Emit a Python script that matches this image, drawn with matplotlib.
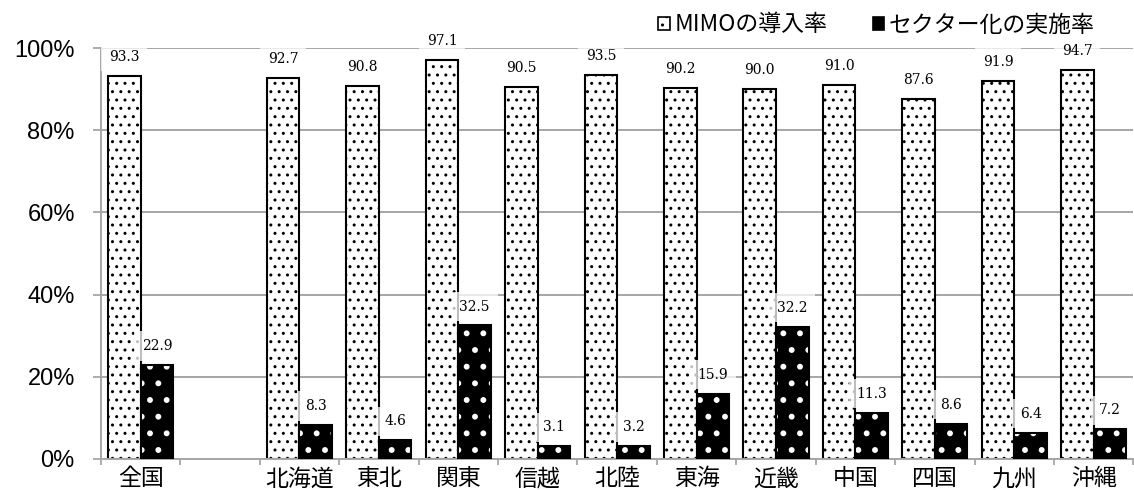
import numpy as np
import matplotlib
matplotlib.use('Agg')
import matplotlib.pyplot as plt
from matplotlib.patches import Patch

# data (percent), empty slot after 全国
categories = ['全国', '', '北海道', '東北', '関東', '信越', '北陸', '東海',
              '近畿', '中国', '四国', '九州', '沖縄']
mimo_rate = [93.3, np.nan, 92.7, 90.8, 97.1, 90.5, 93.5, 90.2, 90.0, 91.0,
             87.6, 91.9, 94.7]
sector_rate = [22.9, np.nan, 8.3, 4.6, 32.5, 3.1, 3.2, 15.9, 32.2, 11.3,
               8.6, 6.4, 7.2]
legend_labels = ['MIMOの導入率', 'セクター化の実施率']
y_ticks = [0, 20, 40, 60, 80, 100]

# design
JP_FONT = ['Noto Sans CJK JP', 'DejaVu Sans']
GRID_COLOR = '#a6a6a6'
BAR_WIDTH = 0.41
LABEL_OFFSET = 4.6  # in percent units

fig = plt.figure(figsize=(11.34, 4.9), dpi=100)
ax = fig.add_axes([0.089, 0.0633, 0.9105, 0.8387])

x = np.arange(len(categories))
mimo = np.array(mimo_rate)
sector = np.array(sector_rate)

# MIMO bars: white with small black dots
ax.bar(x - BAR_WIDTH / 2, mimo, BAR_WIDTH, facecolor='white',
       edgecolor='black', hatch='..', linewidth=1.5, zorder=2)
# sector bars: black with white dots (a bit bigger), then a black outline
with plt.rc_context({'hatch.linewidth': 1.8}):
    ax.bar(x + BAR_WIDTH / 2, sector, BAR_WIDTH, facecolor='black',
           edgecolor='white', hatch='.', linewidth=0, zorder=2)
ax.bar(x + BAR_WIDTH / 2, sector, BAR_WIDTH, fill=False,
       edgecolor='black', linewidth=1.5, zorder=3)

# value labels
box = dict(facecolor='white', edgecolor='none', alpha=0.75,
           boxstyle='square,pad=0.55')
for xi, v in zip(x, mimo):
    if not np.isnan(v):
        ax.text(xi - BAR_WIDTH / 2, v + LABEL_OFFSET, '%.1f' % v,
                ha='center', va='center', fontsize=10,
                family='DejaVu Serif', bbox=box, zorder=4)
for xi, v in zip(x, sector):
    if not np.isnan(v):
        ax.text(xi + BAR_WIDTH / 2, v + LABEL_OFFSET, '%.1f' % v,
                ha='center', va='center', fontsize=10,
                family='DejaVu Serif', bbox=box, zorder=4)

# axes
ax.set_xlim(-0.5, len(categories) - 0.5)
ax.set_ylim(0, 100)
ax.set_yticks(y_ticks)
ax.set_yticklabels(['%d%%' % t for t in y_ticks], family='Liberation Sans',
                   fontsize=17)
ax.yaxis.grid(True, color=GRID_COLOR, linewidth=1.4)
ax.set_axisbelow(True)
ax.tick_params(axis='y', length=5.8, color=GRID_COLOR, width=1.3, pad=13)

ax.set_xticks(x)
ax.set_xticklabels(categories, family=JP_FONT, fontsize=16.5)
ax.set_xticks(np.arange(-0.5, len(categories), 1), minor=True)
ax.tick_params(axis='x', which='major', length=0, pad=6)
ax.tick_params(axis='x', which='minor', length=4.5, color=GRID_COLOR,
               width=1.3)

for side in ['top', 'right']:
    ax.spines[side].set_visible(False)
for side in ['left', 'bottom']:
    ax.spines[side].set_color(GRID_COLOR)
    ax.spines[side].set_linewidth(1.4)

# legend
handles = [Patch(facecolor='white', edgecolor='black', hatch='..', linewidth=1.2),
           Patch(facecolor='black', edgecolor='black', linewidth=1.2)]
fig.legend(handles, legend_labels, loc='center', ncol=2,
           bbox_to_anchor=(0.773, 0.949), frameon=False,
           prop={'family': JP_FONT, 'size': 16.5},
           handlelength=0.5, handleheight=0.5, handletextpad=0.2,
           columnspacing=2.0, borderpad=0)

fig.savefig('out.png', dpi=100)
